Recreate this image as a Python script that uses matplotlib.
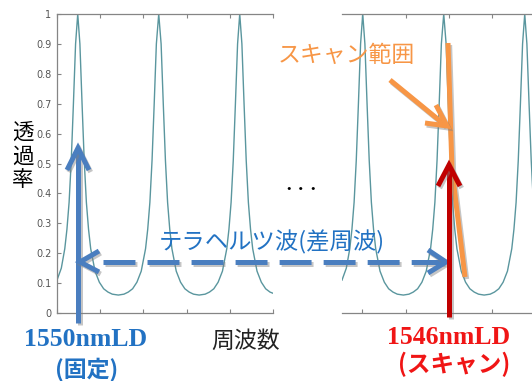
import numpy as np
import matplotlib
matplotlib.use('Agg')
import matplotlib.pyplot as plt
import matplotlib.patheffects as pe

plt.rcParams['font.family'] = ['Noto Sans CJK JP', 'DejaVu Sans']
plt.rcParams['lines.scale_dashes'] = False

# transmission curve (x in tick-spacing units)
freq_x = [0.00, 0.10, 0.18, 0.23, 0.28, 0.33, 0.38, 0.43, 0.48, 0.53, 0.58, 0.63,
          0.68, 0.73, 0.78, 0.88, 0.98, 1.08, 1.18, 1.28, 1.42, 1.55, 1.65, 1.75,
          1.85, 1.95, 2.05, 2.10, 2.15, 2.20, 2.25, 2.30, 2.355, 2.41, 2.46, 2.51,
          2.56, 2.61, 2.66, 2.76, 2.86, 2.96, 3.06, 3.16, 3.29, 3.43, 3.53, 3.63,
          3.73, 3.83, 3.93, 3.98, 4.03, 4.08, 4.13, 4.18, 4.23, 4.28, 4.33, 4.38,
          4.43, 4.48, 4.53, 4.63, 4.73, 4.83, 4.93, 5.00]
transmission = [0.11, 0.15, 0.215, 0.28, 0.37, 0.51, 0.70, 0.90, 1.00, 0.90, 0.70, 0.51,
                0.37, 0.28, 0.215, 0.14, 0.103, 0.081, 0.070, 0.063, 0.060, 0.063, 0.070, 0.081,
                0.103, 0.14, 0.215, 0.28, 0.37, 0.51, 0.70, 0.90, 1.00, 0.90, 0.70, 0.51,
                0.37, 0.28, 0.215, 0.14, 0.103, 0.081, 0.070, 0.063, 0.060, 0.063, 0.070, 0.081,
                0.103, 0.14, 0.215, 0.28, 0.37, 0.51, 0.70, 0.90, 1.00, 0.90, 0.70, 0.51,
                0.37, 0.28, 0.215, 0.14, 0.103, 0.081, 0.070, 0.066]

left_ticks = [0, 1, 2, 3, 4, 5]
right_ticks = [0.46, 1.47, 2.48, 3.47, 4.5]
y_ticks = [0, 0.1, 0.2, 0.3, 0.4, 0.5, 0.6, 0.7, 0.8, 0.9, 1]
y_ticklabels = ['0', '0.1', '0.2', '0.3', '0.4', '0.5', '0.6', '0.7', '0.8', '0.9', '1']

W, H = 532, 381
fig = plt.figure(figsize=(W / 100, H / 100), dpi=100)

curve_color = '#5a969e'
spine_color = '#858585'


def panel(rect, xticks, show_y):
    ax = fig.add_axes(rect)
    ax.plot(freq_x, transmission, color=curve_color, linewidth=1.0)
    ax.set_xlim(0, 5)
    ax.set_ylim(0, 1)
    ax.set_xticks(xticks)
    ax.set_xticklabels([])
    ax.tick_params(axis='x', direction='in', top=True, length=3, color=spine_color)
    ax.spines['right'].set_visible(False)
    for s in ['top', 'bottom', 'left']:
        ax.spines[s].set_color(spine_color)
        ax.spines[s].set_linewidth(0.9)
    if show_y:
        ax.set_yticks(y_ticks)
        ax.set_yticklabels(y_ticklabels, fontsize=7, color='#555555', family='DejaVu Sans')
        ax.tick_params(axis='y', direction='in', length=3, color=spine_color, pad=4)
    else:
        ax.spines['left'].set_visible(False)
        ax.set_yticks([])
    return ax


panel([57 / W, 1 - 313 / H, 216 / W, 299 / H], left_ticks, True)
panel([342 / W, 1 - 313 / H, 216 / W, 299 / H], right_ticks, False)

# overlay in pixel coordinates for the annotations
ov = fig.add_axes([0, 0, 1, 1], zorder=10)
ov.set_xlim(0, W)
ov.set_ylim(H, 0)
ov.axis('off')

blue = '#4a7ebf'
red = '#c00000'
orange = '#f79646'
lw = 3.6
shadow = [pe.SimpleLineShadow(offset=(1.2, -1.5), shadow_color='gray', alpha=0.45), pe.Normal()]


def line(xs, ys, color, **kw):
    ov.plot(xs, ys, color=color, linewidth=lw, solid_capstyle='butt',
            solid_joinstyle='miter', path_effects=shadow, **kw)


# blue vertical arrow (1550nm)
line([78, 78], [323, 150], blue)
line([67, 78, 89], [170, 148, 170], blue)

# dashed double arrow
ov.plot([103, 446], [262, 262], color=blue, linewidth=lw, linestyle=(0, (23, 8.7)),
        solid_capstyle='butt', dash_capstyle='butt', path_effects=shadow)
line([99, 80, 99], [251, 262, 272], blue)
line([428, 446, 428], [250, 262, 273], blue)

# orange scan range line and pointer
line([448, 452, 465], [43, 170, 277], orange)
line([390, 445], [80, 125], orange)
line([436, 447, 425], [105, 126, 123], orange)

# red vertical arrow (1546nm)
line([449, 449], [317, 167], red)
line([438, 449, 460], [186, 165, 186], red)

# texts
ov.text(346, 55, 'スキャン範囲', color=orange, fontsize=16.5, ha='center', va='center')
ov.text(272, 242, 'テラヘルツ波(差周波)', color='#2272c3', fontsize=16.8, ha='center', va='center')
ov.text(301, 189, '・・・', color='black', fontsize=9, ha='center', va='center', weight='bold')

for i, ch in enumerate('透過率'):
    ov.text(23, 133 + i * 23.5, ch, color='black', fontsize=15.5, ha='center', va='center')
ov.text(246, 341, '周波数', color='#222222', fontsize=16.5, ha='center', va='center')

ov.text(86, 340, '1550nmLD', color='#2272c3', fontsize=18.5, ha='center', va='center',
        family='Liberation Serif', weight='bold')
ov.text(87, 369, '(固定)', color='#2272c3', fontsize=16.5, ha='center', va='center', weight='bold')
ov.text(449, 337, '1546nmLD', color='#f01515', fontsize=18.5, ha='center', va='center',
        family='Liberation Serif', weight='bold')
ov.text(454, 364, '(スキャン)', color='#f01515', fontsize=17, ha='center', va='center', weight='bold')

fig.savefig('out.png', dpi=100)
